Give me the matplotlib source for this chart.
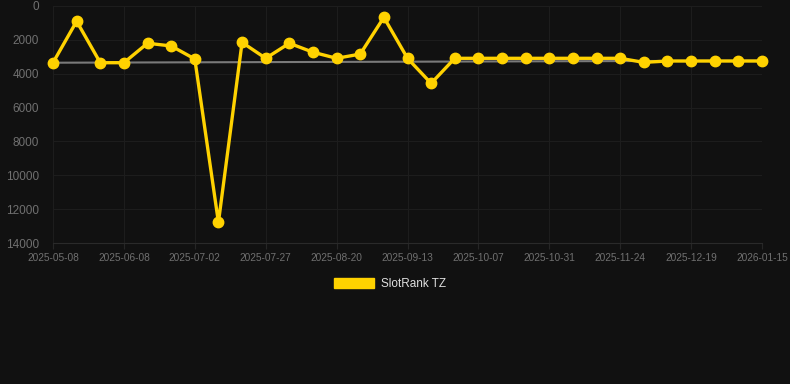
import matplotlib
matplotlib.use('Agg')
import matplotlib.pyplot as plt
from matplotlib.patches import Patch

# categories (one point per date)
dates = ['2025-05-08', '2025-05-18', '2025-05-28', '2025-06-08', '2025-06-16', '2025-06-24',
         '2025-07-02', '2025-07-10', '2025-07-18', '2025-07-27', '2025-08-04', '2025-08-12',
         '2025-08-20', '2025-08-28', '2025-09-05', '2025-09-13', '2025-09-21', '2025-09-29',
         '2025-10-07', '2025-10-15', '2025-10-23', '2025-10-31', '2025-11-08', '2025-11-16',
         '2025-11-24', '2025-12-02', '2025-12-10', '2025-12-19', '2025-12-28', '2026-01-06',
         '2026-01-15']

rank = [3350, 900, 3350, 3350, 2200, 2360, 3130, 12780, 2150, 3090, 2200, 2730,
        3090, 2840, 670, 3090, 4570, 3090, 3090, 3090, 3090, 3090, 3090, 3090,
        3090, 3330, 3250, 3250, 3250, 3250, 3250]

# gray trend line, start and end
trend = [3350, 3230]

y_ticks = [0, 2000, 4000, 6000, 8000, 10000, 12000, 14000]

bg = '#111111'
grid_col = '#1d1d1d'
txt_col = '#707070'
yellow = '#ffd200'

plt.rcParams['font.family'] = ['Liberation Sans', 'DejaVu Sans']

fig = plt.figure(figsize=(7.9, 3.84), dpi=100, facecolor=bg)
ax = fig.add_axes([53 / 790, 1 - 243 / 384, (762 - 53) / 790, (243 - 6) / 384])
ax.set_facecolor(bg)

x = list(range(len(dates)))
ax.plot([x[0], x[-1]], trend, color='#7a7a7a', lw=1.5, zorder=2)
ax.plot(x, rank, color=yellow, lw=2.4, marker='o', markersize=7.5,
        markerfacecolor=yellow, markeredgecolor=yellow, zorder=3, clip_on=False)

ax.set_xlim(0, len(dates) - 1)
ax.set_ylim(14000, 0)
ax.set_yticks(y_ticks)
ax.set_yticklabels([str(v) for v in y_ticks])
ax.set_xticks(x[::3])
ax.set_xticklabels(dates[::3])

ax.tick_params(axis='y', colors=txt_col, labelsize=8.5, length=0, pad=10)
ax.tick_params(axis='x', colors=txt_col, labelsize=7.3, length=4, pad=3, color='#262626')
ax.grid(True, color=grid_col, lw=0.8)
ax.set_axisbelow(True)
for s in ax.spines.values():
    s.set_visible(False)
ax.spines['bottom'].set_visible(True)
ax.spines['bottom'].set_color('#2a2a2a')
ax.spines['bottom'].set_linewidth(0.8)

fig.legend(handles=[Patch(facecolor=yellow, edgecolor=yellow, label='SlotRank TZ')],
           loc='center', bbox_to_anchor=(390 / 790, 1 - 284 / 384), frameon=False,
           fontsize=8.5, labelcolor='#e0e0e0', handlelength=3.4, handleheight=0.9,
           handletextpad=0.6)

fig.savefig('out.png', dpi=100, facecolor=bg)
